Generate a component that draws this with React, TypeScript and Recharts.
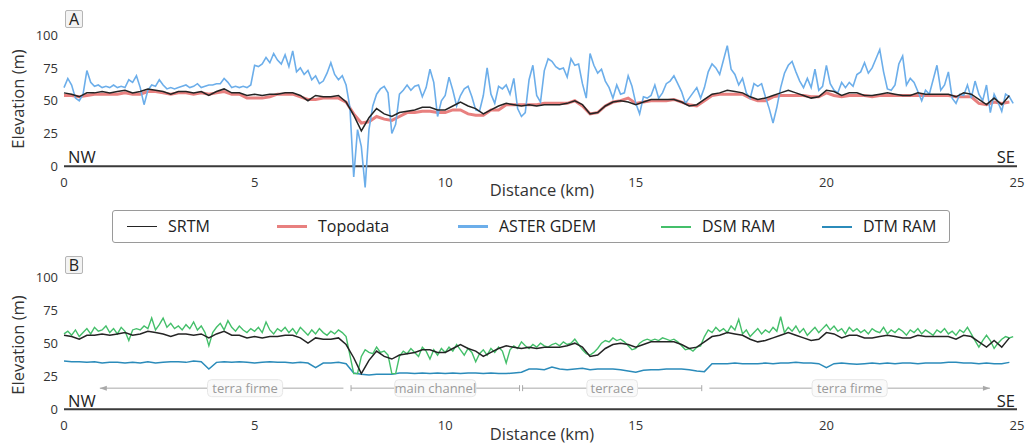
import React from 'react';
import { LineChart, Line, XAxis, YAxis, CartesianGrid, ReferenceLine } from 'recharts';

const FONT = '"Open Sans", "Noto Sans", sans-serif';

// sampling steps along the profile (km)
const COARSE_STEP_KM = 0.2;
const FINE_STEP_KM = 0.1;

const distanceTicks = [0, 5, 10, 15, 20, 25];
const elevationTicks = [0, 25, 50, 75, 100];

// SRTM, every 0.2 km from 0 to 24.8
const srtm = [
  56, 55, 53, 56, 56, 57, 56, 57, 58, 56,
  57, 59, 58, 57, 55, 57, 57, 56, 57, 54,
  57, 59, 56, 56, 54, 55, 54, 55, 55, 56,
  56, 54, 50, 54, 53, 53, 54, 49, 39, 27,
  37, 44, 40, 38, 41, 42, 43, 45, 45, 43,
  43, 46, 49, 46, 44, 40, 43, 46, 48, 47,
  46, 47, 46, 47, 47, 47, 48, 50, 47, 40,
  41, 46, 49, 50, 49, 47, 49, 51, 51, 51,
  51, 49, 46, 47, 51, 55, 56, 58, 57, 56,
  53, 51, 52, 54, 56, 58, 56, 54, 52, 53,
  58, 57, 54, 56, 56, 54, 54, 55, 56, 55,
  54, 54, 56, 55, 55, 55, 55, 53, 56, 55,
  51, 47, 52, 47, 54,
];

// Topodata, every 0.2 km from 0 to 24.8
const topodata = [
  54, 54, 53, 54, 55, 55, 55, 55, 56, 55,
  55, 57, 57, 56, 55, 56, 56, 55, 56, 55,
  56, 57, 55, 55, 52, 52, 52, 53, 55, 55,
  55, 53, 51, 51, 52, 52, 52, 49, 40, 33,
  34, 38, 36, 35, 38, 41, 41, 42, 42, 41,
  41, 43, 43, 40, 39, 39, 43, 43, 47, 47,
  47, 47, 47, 48, 48, 48, 48, 50, 46, 40,
  41, 46, 49, 50, 52, 48, 49, 50, 50, 50,
  51, 49, 47, 46, 50, 54, 55, 55, 55, 55,
  52, 50, 50, 53, 54, 54, 54, 54, 53, 53,
  56, 54, 53, 54, 54, 54, 53, 54, 54, 54,
  54, 54, 54, 54, 54, 54, 54, 53, 53, 53,
  48, 47, 49, 48, 49,
];

// ASTER GDEM, every 0.1 km from 0 to 24.9
const asterGdem = [
  60, 67, 62, 52, 50, 55, 73, 64, 61, 62,
  60, 61, 60, 62, 60, 61, 60, 66, 64, 69,
  60, 47, 58, 62, 61, 66, 62, 59, 60, 59,
  60, 61, 62, 60, 61, 63, 60, 61, 62, 62,
  63, 63, 67, 64, 60, 61, 60, 61, 60, 62,
  77, 76, 78, 83, 79, 86, 81, 78, 85, 76,
  88, 72, 75, 70, 73, 66, 69, 63, 65, 71,
  79, 70, 66, 69, 62, 45, -8, 28, 15, -16,
  28, 46, 55, 59, 61, 56, 25, 32, 55, 58,
  62, 58, 61, 62, 53, 60, 74, 64, 38, 50,
  54, 68, 58, 46, 54, 59, 61, 53, 43, 42,
  54, 75, 55, 48, 61, 59, 62, 55, 67, 44,
  38, 41, 66, 77, 54, 49, 73, 82, 80, 76,
  74, 75, 68, 82, 77, 78, 63, 52, 86, 77,
  71, 74, 65, 60, 52, 62, 55, 56, 69, 61,
  48, 40, 53, 52, 54, 62, 52, 56, 63, 65,
  69, 63, 57, 48, 52, 56, 60, 52, 60, 72,
  78, 75, 70, 81, 92, 74, 70, 62, 67, 56,
  52, 63, 61, 63, 53, 44, 33, 45, 60, 71,
  77, 80, 72, 65, 60, 67, 60, 74, 58, 61,
  77, 63, 58, 56, 64, 60, 64, 61, 70, 72,
  79, 71, 75, 82, 89, 72, 59, 58, 62, 78,
  84, 62, 67, 64, 57, 50, 58, 55, 66, 77,
  58, 62, 72, 52, 48, 55, 54, 62, 52, 65,
  55, 50, 62, 41, 55, 49, 42, 55, 53, 48,
];

// DSM RAM, every 0.1 km from 0 to 24.9
const dsmRam = [
  57, 59, 56, 60, 55, 58, 61, 57, 62, 59,
  60, 63, 58, 61, 57, 62, 59, 52, 60, 61,
  60, 63, 61, 69, 60, 64, 69, 62, 65, 61,
  63, 60, 64, 61, 66, 60, 63, 58, 48, 58,
  62, 65, 60, 67, 62, 59, 63, 60, 58, 61,
  59, 62, 58, 66, 60, 57, 61, 59, 62, 58,
  61, 57, 62, 59, 56, 60, 57, 61, 58, 56,
  59, 57, 60, 58, 55, 41, 27, 27, 40, 45,
  43, 42, 47, 43, 44, 41, 27, 27, 40, 44,
  42, 46, 43, 40, 47, 44, 38, 45, 41, 46,
  43, 47, 44, 49, 45, 41, 46, 43, 36, 42,
  45, 41, 46, 43, 47, 44, 35, 45, 48, 46,
  51, 48, 46, 49, 47, 50, 48, 47, 49, 50,
  48, 51, 49, 50, 53, 49, 45, 42, 41, 43,
  46, 50, 52, 51, 54, 52, 53, 51, 48, 45,
  46, 50, 52, 53, 52, 53, 52, 54, 53, 52,
  53, 51, 48, 45, 46, 44, 47, 48, 55, 60,
  58, 62, 59, 61, 58, 63, 60, 68, 57, 60,
  55, 58, 61, 57, 60, 58, 62, 59, 70, 58,
  62, 59, 63, 58, 61, 56, 59, 62, 58, 61,
  64, 60, 63, 59, 61, 57, 62, 59, 61, 58,
  60, 57, 61, 59, 58, 62, 57, 60, 58, 61,
  59, 56, 60, 58, 61, 57, 60, 58, 56, 60,
  58, 61, 57, 59, 56, 60, 58, 62, 57, 52,
  47, 52, 56, 52, 46, 50, 53, 55, 54, 55,
];

// DTM RAM, every 0.2 km from 0 to 24.8
const dtmRam = [
  36.5, 36, 36, 35.5, 36, 35, 35.5, 35.5, 35, 35.5,
  35, 36, 35, 35.5, 36, 36, 35.5, 36.5, 36, 30.5,
  35.5, 36, 35.5, 36, 35.5, 35, 35.5, 36, 35.5, 35.5,
  35, 35.5, 35, 31.5, 35, 35, 35.5, 34.5, 27.5, 26.5,
  26, 26.5, 26.5, 26.5, 27.5, 27.5, 27, 27.5, 27, 27.5,
  27, 27.5, 27, 27.5, 27.5, 27, 27.5, 27, 27, 27.5,
  28, 30.5, 30.5, 30, 32, 30.5, 30, 30.5, 31, 30,
  30.5, 30.5, 30.5, 30, 29, 28, 29.5, 30, 30, 30.5,
  30.5, 30.5, 30, 29, 28.5, 34.5, 34.5, 34.5, 35, 34.5,
  34.5, 34.5, 35, 34.5, 35, 35, 35.5, 35, 35, 34.5,
  31.5, 34.5, 35, 34.5, 34, 34.5, 35, 34.5, 35, 34.5,
  35, 35, 34.5, 35, 35, 35, 35.5, 35.5, 35, 35,
  34.5, 35, 34.5, 34.5, 35.5,
];

// landscape units along panel B (km)
const zones = [
  { label: 'terra firme', from: 0.94, to: 7.33, labelAt: 4.75, startCap: 'arrow', endCap: 'none' },
  { label: 'main channel', from: 7.53, to: 11.95, labelAt: 9.74, startCap: 'bar', endCap: 'bar' },
  { label: 'terrace', from: 12.03, to: 16.73, labelAt: 14.38, startCap: 'bar', endCap: 'bar' },
  { label: 'terra firme', from: 16.93, to: 24.29, labelAt: 20.61, startCap: 'none', endCap: 'arrow' },
];
const ZONE_ELEVATION = 16;

const COLORS = {
  srtm: '#242424',
  topodata: '#e8807f',
  aster: '#6caeea',
  dsm: '#44bf6a',
  dtm: '#2b8bba',
};

const toSeries = (values: number[], step: number) =>
  values.map((v, i) => ({ km: Math.round(i * step * 10) / 10, elev: v }));

const srtmPts = toSeries(srtm, COARSE_STEP_KM);
const topoPts = toSeries(topodata, COARSE_STEP_KM);
const asterPts = toSeries(asterGdem, FINE_STEP_KM);
const dsmPts = toSeries(dsmRam, FINE_STEP_KM);
const dtmPts = toSeries(dtmRam, COARSE_STEP_KM);

const XTick = (props: any) => {
  const { x, y, payload } = props;
  return (
    <text x={x} y={y} dy={-6} textAnchor="middle" fontSize={13} fill="#333" fontFamily={FONT}>
      {payload.value}
    </text>
  );
};

const ZoneShape = (props: any) => {
  const { x1, y1, x2, zone } = props;
  if (x1 == null || x2 == null) return null;
  const y = y1;
  const lx = x1 + ((zone.labelAt - zone.from) / (zone.to - zone.from)) * (x2 - x1);
  const w = zone.label.length * 6.1 + 8;
  const c = '#a9a9a9';
  return (
    <g>
      <line x1={x1} y1={y} x2={x2} y2={y} stroke={c} strokeWidth={1} />
      {zone.startCap === 'arrow' && <polygon points={`${x1},${y} ${x1 + 7},${y - 2.5} ${x1 + 7},${y + 2.5}`} fill={c} />}
      {zone.endCap === 'arrow' && <polygon points={`${x2},${y} ${x2 - 7},${y - 2.5} ${x2 - 7},${y + 2.5}`} fill={c} />}
      {zone.startCap === 'bar' && <line x1={x1} y1={y - 3} x2={x1} y2={y + 3} stroke={c} strokeWidth={1} />}
      {zone.endCap === 'bar' && <line x1={x2} y1={y - 3} x2={x2} y2={y + 3} stroke={c} strokeWidth={1} />}
      <rect x={lx - w / 2} y={y - 8.5} width={w} height={17} rx={4} fill="#fafafa" stroke="#e6e6e6" strokeWidth={1} />
      <text x={lx} y={y + 4.5} textAnchor="middle" fontSize={13} fill="#9a9a9a" fontFamily={FONT}>
        {zone.label}
      </text>
    </g>
  );
};

const gridRows = (p: any) => {
  const s = p && p.yAxis && p.yAxis.scale;
  if (typeof s !== 'function') return [];
  return elevationTicks.filter((t) => t > 0).map((t) => s(t));
};

const yAxisProps = {
  type: 'number' as const,
  domain: [-20, 110],
  ticks: elevationTicks,
  width: 64,
  axisLine: false,
  tickLine: false,
  tickSize: 0,
  tickMargin: 6,
  interval: 0 as const,
  tick: { fontSize: 13, fill: '#333', fontFamily: FONT },
};

const xAxisProps = {
  type: 'number' as const,
  dataKey: 'km',
  domain: [0, 25],
  ticks: distanceTicks,
  axisLine: false,
  tickLine: false,
  tickSize: 0,
  tickMargin: 0,
  height: 20,
  interval: 0 as const,
  tick: XTick,
};

const legendItems = [
  { name: 'SRTM', color: COLORS.srtm, width: 1.6, left: 14, textLeft: 55 },
  { name: 'Topodata', color: COLORS.topodata, width: 3, left: 164, textLeft: 205 },
  { name: 'ASTER GDEM', color: COLORS.aster, width: 2.5, left: 345, textLeft: 386 },
  { name: 'DSM RAM', color: COLORS.dsm, width: 2, left: 548, textLeft: 589 },
  { name: 'DTM RAM', color: COLORS.dtm, width: 2, left: 709, textLeft: 750 },
];

export default function App() {
  return (
    <div style={{ position: 'absolute', left: 0, top: 0, width: 1029, height: 445, background: '#fff', fontFamily: FONT, overflow: 'hidden' }}>
      <div style={{ position: 'absolute', left: 0, top: 0 }}>
        <LineChart width={1029} height={220} margin={{ top: 22, right: 12, bottom: 7.4, left: 0 }}>
          <CartesianGrid vertical={false} stroke="#dadada" strokeWidth={1.5} horizontalCoordinatesGenerator={gridRows} />
          <XAxis {...xAxisProps} />
          <YAxis {...yAxisProps} />
          <ReferenceLine y={0} stroke="#3a3a3a" strokeWidth={2} />
          <Line data={topoPts} dataKey="elev" name="Topodata" type="linear" dot={false} stroke={COLORS.topodata} strokeWidth={3} isAnimationActive={false} />
          <Line data={asterPts} dataKey="elev" name="ASTER GDEM" type="linear" dot={false} stroke={COLORS.aster} strokeWidth={1.6} isAnimationActive={false} />
          <Line data={srtmPts} dataKey="elev" name="SRTM" type="linear" dot={false} stroke={COLORS.srtm} strokeWidth={1.5} isAnimationActive={false} />
        </LineChart>
      </div>

      <div style={{ position: 'absolute', left: 0, top: 244 }}>
        <LineChart width={1029} height={211.8} margin={{ top: 19.8, right: 12, bottom: 0, left: 0 }}>
          <CartesianGrid vertical={false} stroke="#dadada" strokeWidth={1.5} horizontalCoordinatesGenerator={gridRows} />
          <XAxis {...xAxisProps} />
          <YAxis {...yAxisProps} />
          <ReferenceLine y={0} stroke="#3a3a3a" strokeWidth={2} />
          {zones.map((z, i) => (
            <ReferenceLine
              key={i}
              segment={[{ x: z.from, y: ZONE_ELEVATION }, { x: z.to, y: ZONE_ELEVATION }]}
              ifOverflow="visible"
              shape={(p: any) => <ZoneShape {...p} zone={z} />}
            />
          ))}
          <Line data={dtmPts} dataKey="elev" name="DTM RAM" type="linear" dot={false} stroke={COLORS.dtm} strokeWidth={1.5} isAnimationActive={false} />
          <Line data={dsmPts} dataKey="elev" name="DSM RAM" type="linear" dot={false} stroke={COLORS.dsm} strokeWidth={1.4} isAnimationActive={false} />
          <Line data={srtmPts} dataKey="elev" name="SRTM" type="linear" dot={false} stroke={COLORS.srtm} strokeWidth={1.5} isAnimationActive={false} />
        </LineChart>
      </div>

      {/* legend */}
      <div style={{ position: 'absolute', left: 112, top: 210, width: 836, height: 31, border: '1px solid #9a9a9a', borderRadius: 3, background: '#fff' }}>
        {legendItems.map((it) => (
          <React.Fragment key={it.name}>
            <div style={{ position: 'absolute', left: it.left, top: 15.5 - it.width / 2, width: 30, height: it.width, background: it.color }} />
            <div style={{ position: 'absolute', left: it.textLeft, top: 4, fontSize: 16, lineHeight: '22px', color: '#222', whiteSpace: 'nowrap' }}>{it.name}</div>
          </React.Fragment>
        ))}
      </div>

      {/* panel labels, axis titles, orientation */}
      <svg width={1029} height={445} style={{ position: 'absolute', left: 0, top: 0, pointerEvents: 'none' }} fontFamily={FONT}>
        <rect x={65.5} y={10.5} width={17} height={17} fill="#f3f3f3" stroke="#b5b5b5" rx={1.5} />
        <text x={74} y={25} textAnchor="middle" fontSize={16} fill="#222">A</text>
        <rect x={65.5} y={256.5} width={17} height={17} fill="#f3f3f3" stroke="#b5b5b5" rx={1.5} />
        <text x={74} y={271} textAnchor="middle" fontSize={16} fill="#222">B</text>

        <text transform="translate(24,99) rotate(-90)" textAnchor="middle" fontSize={16.5} fill="#333">Elevation (m)</text>
        <text transform="translate(24,345) rotate(-90)" textAnchor="middle" fontSize={16.5} fill="#333">Elevation (m)</text>

        <text x={542} y={196} textAnchor="middle" fontSize={16.5} fill="#333">Distance (km)</text>
        <text x={542} y={440} textAnchor="middle" fontSize={16.5} fill="#333">Distance (km)</text>

        <text x={68} y={163} fontSize={16.5} fill="#222">NW</text>
        <text x={1015} y={163} textAnchor="end" fontSize={16.5} fill="#222">SE</text>
        <text x={68} y={407} fontSize={16.5} fill="#222">NW</text>
        <text x={1015} y={407} textAnchor="end" fontSize={16.5} fill="#222">SE</text>
      </svg>
    </div>
  );
}
